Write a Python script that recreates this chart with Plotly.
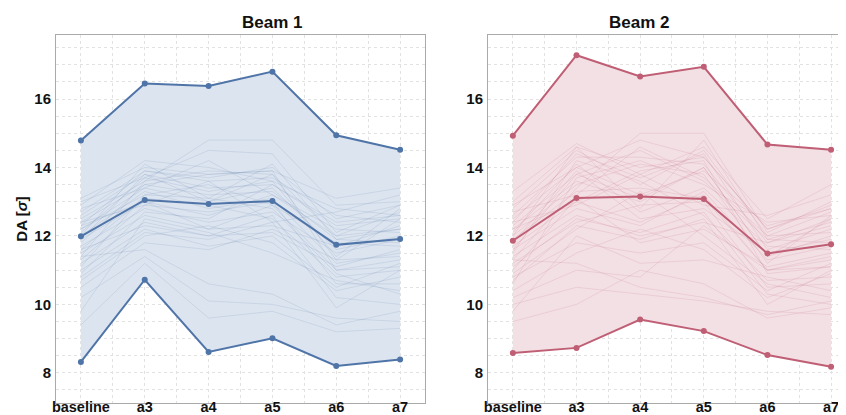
import plotly.graph_objects as go

categories = ["baseline", "a3", "a4", "a5", "a6", "a7"]
x_pos = [0, 1, 2, 3, 4, 5]

b1_max = [14.79, 16.45, 16.38, 16.80, 14.94, 14.52]
b1_mean = [11.99, 13.05, 12.93, 13.02, 11.74, 11.91]
b1_min = [8.32, 10.72, 8.61, 9.01, 8.20, 8.39]

b2_max = [14.93, 17.28, 16.66, 16.94, 14.67, 14.52]
b2_mean = [11.86, 13.11, 13.15, 13.08, 11.49, 11.76]
b2_min = [8.58, 8.73, 9.56, 9.22, 8.52, 8.18]

b1_seeds = [
    [13.1, 14.0, 13.8, 13.9, 13.1, 13.4],
    [12.9, 14.2, 14.0, 13.6, 12.8, 12.6],
    [12.7, 13.9, 13.7, 14.0, 12.5, 12.9],
    [12.6, 13.8, 13.4, 13.5, 12.3, 12.5],
    [12.5, 13.6, 13.9, 13.8, 12.0, 12.7],
    [12.4, 13.5, 13.2, 13.3, 11.9, 12.2],
    [12.3, 13.9, 13.6, 13.7, 12.6, 12.4],
    [12.2, 13.4, 13.0, 13.4, 11.6, 12.0],
    [12.2, 13.2, 13.5, 12.9, 11.8, 11.7],
    [12.1, 13.7, 13.3, 13.6, 11.4, 12.8],
    [12.0, 13.3, 12.8, 13.1, 11.2, 11.5],
    [11.9, 13.0, 12.6, 13.2, 12.2, 12.1],
    [11.8, 13.5, 13.8, 13.9, 11.0, 11.3],
    [11.7, 12.8, 12.4, 12.7, 11.5, 11.9],
    [11.6, 13.1, 12.9, 12.5, 10.8, 11.0],
    [11.5, 12.6, 12.2, 12.3, 11.7, 12.3],
    [11.4, 13.6, 14.8, 14.8, 12.9, 13.0],
    [11.3, 12.9, 12.7, 13.0, 10.6, 10.6],
    [11.2, 12.4, 12.0, 12.1, 11.1, 11.6],
    [11.1, 13.2, 13.1, 12.8, 10.9, 10.3],
    [11.0, 12.2, 11.7, 12.0, 10.5, 11.2],
    [10.9, 12.7, 12.5, 13.5, 12.4, 12.6],
    [10.7, 12.0, 12.3, 11.8, 10.4, 10.8],
    [10.5, 11.8, 11.6, 12.2, 11.3, 11.4],
    [10.2, 11.4, 10.1, 10.0, 9.6, 9.5],
    [9.8, 12.5, 12.1, 11.5, 10.7, 10.4],
    [9.4, 11.2, 9.6, 9.8, 9.2, 9.3],
    [12.8, 13.4, 14.2, 13.2, 12.0, 12.2],
    [12.0, 14.1, 13.1, 14.1, 11.9, 11.8],
    [11.6, 12.3, 12.0, 12.6, 10.2, 10.0],
    [12.4, 12.9, 13.6, 12.4, 12.7, 13.2],
    [11.9, 13.8, 13.0, 13.8, 11.3, 12.5],
    [13.0, 13.7, 14.5, 14.4, 12.1, 12.9],
    [10.8, 12.1, 11.9, 12.4, 9.9, 11.0],
    [12.3, 13.0, 12.2, 12.9, 11.0, 11.1],
    [11.4, 11.6, 10.6, 10.3, 9.4, 9.8],
]

b2_seeds = [
    [13.3, 14.7, 13.8, 14.6, 12.5, 13.5],
    [13.0, 14.6, 14.0, 14.3, 12.2, 12.9],
    [12.8, 14.5, 13.5, 14.5, 12.0, 12.7],
    [12.6, 14.3, 14.3, 14.1, 11.8, 12.5],
    [12.5, 14.0, 13.2, 13.9, 12.3, 12.8],
    [12.4, 14.4, 13.7, 14.4, 11.6, 12.2],
    [12.3, 13.8, 14.5, 13.6, 11.9, 12.4],
    [12.2, 13.6, 13.0, 14.0, 11.4, 12.0],
    [12.1, 14.1, 12.7, 13.4, 11.7, 11.6],
    [12.0, 13.5, 14.1, 13.8, 11.2, 12.6],
    [11.9, 13.3, 13.4, 13.1, 11.0, 11.3],
    [11.8, 13.9, 12.5, 12.8, 11.5, 11.9],
    [11.7, 13.0, 13.9, 14.2, 10.9, 11.1],
    [11.6, 12.8, 12.3, 13.3, 11.3, 11.7],
    [11.5, 14.2, 13.6, 12.6, 10.7, 10.8],
    [11.4, 12.6, 12.0, 12.4, 11.8, 12.3],
    [11.3, 13.4, 15.0, 15.0, 12.1, 13.0],
    [11.2, 12.4, 12.9, 13.0, 10.5, 10.6],
    [11.0, 13.1, 11.8, 12.2, 11.1, 11.5],
    [10.9, 12.2, 13.3, 12.0, 10.6, 10.2],
    [10.8, 11.8, 11.5, 11.8, 10.4, 11.2],
    [10.6, 13.7, 14.2, 13.5, 12.4, 12.6],
    [10.4, 11.5, 12.2, 11.6, 10.2, 10.9],
    [10.2, 11.0, 10.8, 12.3, 11.0, 11.4],
    [10.0, 10.5, 10.3, 10.1, 9.8, 9.7],
    [9.8, 12.0, 11.2, 11.3, 10.8, 10.4],
    [9.5, 10.0, 11.0, 10.6, 9.6, 9.9],
    [12.7, 13.2, 14.6, 13.7, 12.0, 12.1],
    [12.0, 14.6, 12.8, 14.8, 11.9, 11.8],
    [11.1, 12.5, 12.1, 12.7, 10.3, 10.0],
    [12.4, 12.9, 13.8, 12.9, 12.6, 13.2],
    [11.6, 13.8, 13.1, 14.0, 11.4, 12.5],
    [12.9, 14.0, 14.8, 14.3, 12.2, 12.8],
    [10.7, 12.3, 11.9, 12.5, 10.0, 11.0],
    [12.2, 13.0, 12.4, 13.2, 11.0, 11.1],
    [11.3, 11.2, 10.5, 10.2, 9.7, 10.1],
]

beams = [
    dict(name="Beam 1", mx=b1_max, mean=b1_mean, mn=b1_min, seeds=b1_seeds,
         line="#4f74a8", fill="#dce4ef", thin="rgba(95,125,170,0.20)"),
    dict(name="Beam 2", mx=b2_max, mean=b2_mean, mn=b2_min, seeds=b2_seeds,
         line="#bf5e74", fill="#f3e0e4", thin="rgba(190,105,125,0.20)"),
]

fig = go.Figure()
FONT = "Liberation Sans, Arial, sans-serif"

for i, b in enumerate(beams):
    xa = "x" if i == 0 else "x2"
    ya = "y" if i == 0 else "y2"
    fig.add_trace(go.Scatter(x=x_pos, y=b["mn"], mode="lines", line=dict(width=0),
                             xaxis=xa, yaxis=ya, showlegend=False, hoverinfo="skip"))
    fig.add_trace(go.Scatter(x=x_pos, y=b["mx"], mode="lines", line=dict(width=0),
                             fill="tonexty", fillcolor=b["fill"],
                             xaxis=xa, yaxis=ya, showlegend=False, hoverinfo="skip"))
    for s in b["seeds"]:
        fig.add_trace(go.Scatter(x=x_pos, y=s, mode="lines",
                                 line=dict(width=0.8, color=b["thin"]),
                                 xaxis=xa, yaxis=ya, showlegend=False))
    for key in ["mx", "mean", "mn"]:
        fig.add_trace(go.Scatter(x=x_pos, y=b[key], mode="lines+markers",
                                 line=dict(width=2, color=b["line"]),
                                 marker=dict(size=6, color=b["line"]),
                                 xaxis=xa, yaxis=ya, showlegend=False))

grid_col = "#e2e2e2"
common_x = dict(
    tickmode="array", tickvals=x_pos, ticktext=categories,
    showgrid=True, gridcolor=grid_col, griddash="3px,3px", gridwidth=1,
    minor=dict(dtick=0.5, tick0=0, showgrid=True, gridcolor=grid_col, griddash="3px,3px"),
    showline=True, mirror=True, linecolor="#aaaaaa", linewidth=1,
    zeroline=False, ticks="",
    tickfont=dict(family=FONT, size=14.5, color="#111111", weight="bold"),
    ticklabelstandoff=-9,
)
common_y = dict(
    range=[7.12, 17.87], tickmode="linear", tick0=8, dtick=2,
    showgrid=True, gridcolor=grid_col, griddash="3px,3px", gridwidth=1,
    minor=dict(dtick=0.5, tick0=0, showgrid=True, gridcolor=grid_col, griddash="3px,3px"),
    showline=True, mirror=True, linecolor="#aaaaaa", linewidth=1,
    zeroline=False, ticks="",
    tickfont=dict(family=FONT, size=15, color="#111111", weight="bold"),
    ticklabelstandoff=1,
)

fig.update_layout(
    width=846, height=415,
    margin=dict(l=48, r=0, t=27, b=20),
    paper_bgcolor="white", plot_bgcolor="white",
    xaxis=dict(common_x, domain=[0, 0.4624], range=[-0.39, 5.39]),
    xaxis2=dict(common_x, domain=[0.5414, 1.0], range=[-0.39, 5.36], anchor="y2"),
    yaxis=dict(common_y, domain=[0, 1],
               title=dict(text="<b>DA [<i>σ</i>]</b>", font=dict(family=FONT, size=15, color="#111111"),
                          standoff=3)),
    yaxis2=dict(common_y, domain=[0, 1], anchor="x2"),
    annotations=[
        dict(text="<b>Beam 1</b>", x=0.2312, xref="paper", y=1.0, yref="paper",
             yanchor="bottom", yshift=1, showarrow=False, font=dict(family=FONT, size=17, color="#111111")),
        dict(text="<b>Beam 2</b>", x=0.7707, xref="paper", y=1.0, yref="paper",
             yanchor="bottom", yshift=1, showarrow=False, font=dict(family=FONT, size=17, color="#111111")),
    ],
)

fig.write_html("out.html")
